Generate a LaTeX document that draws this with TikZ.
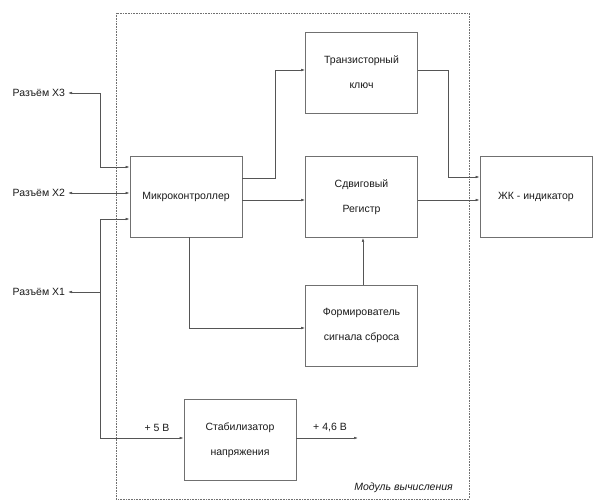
\documentclass[tikz,border=0pt]{standalone}
\usepackage{fontspec}
\setmainfont{Liberation Sans}
\usetikzlibrary{arrows.meta}
\definecolor{ln}{HTML}{555555}
\definecolor{bx}{HTML}{707070}
\definecolor{tx}{HTML}{1A1A1A}
\tikzset{
  blk/.style={draw=bx, line width=0.7pt, minimum width=112pt, minimum height=81pt, inner sep=0pt, align=center, text=tx, font=\fontsize{10.5}{25}\selectfont},
  lbl/.style={inner sep=0pt, text=tx, font=\fontsize{10.5}{12}\selectfont},
  plug/.style={lbl, outer xsep=3pt},
  con/.style={draw=ln, line width=0.6pt},
  arr/.style={con, -{Latex[length=4pt,width=2.6pt]}},
  darr/.style={con, {Latex[length=4pt,width=2.6pt]}-{Latex[length=4pt,width=2.6pt]}},
}
\begin{document}
\begin{tikzpicture}[x=1pt, y=-1pt]
\useasboundingbox (0,0) rectangle (599,503);
\draw[bx, densely dotted, line width=0.6pt] (116,13) rectangle (469,499);
\node[lbl, anchor=south east, font=\fontsize{10.5}{12}\selectfont\itshape] (mod) at (453,493) {Модуль вычисления};

\node[blk] (mc) at (186,196.5) {Микроконтроллер};
\node[blk] (tk) at (361.5,72.5) {Транзисторный\\ключ};
\node[blk] (sr) at (361.5,197) {Сдвиговый\\Регистр};
\node[blk] (lcd) at (536,197) {ЖК - индикатор};
\node[blk] (fs) at (361.5,325.5) {Формирователь\\сигнала сброса};
\node[blk] (st) at (240,440) {Стабилизатор\\напряжения};

\node[plug, anchor=east] (x3) at (68,93) {Разъём X3};
\node[plug, anchor=east] (x2) at (68,193) {Разъём X2};
\node[plug, anchor=east] (x1) at (68,292) {Разъём X1};

\coordinate (j1) at (100,292);
\coordinate (out) at (358,438);

\draw[arr] (mc.east |- 0,178) -| (275,70) -- (tk.west |- 0,70);
\draw[arr] (mc.east |- 0,200) -- (sr.west |- 0,200);
\draw[arr] (tk.east |- 0,70) -| (448,177) -- (lcd.west |- 0,177);
\draw[arr] (sr.east |- 0,200) -- (lcd.west |- 0,200);
\draw[arr] (fs.north -| 363,0) -- (sr.south -| 363,0);
\draw[arr] (mc.south -| 189,0) |- (fs.west |- 0,328);

\draw[darr] (x3.east) -- (100,93) |- (mc.west |- 0,167);
\draw[darr] (x2.east) -- (mc.west |- 0,193);
\draw[arr] (100,438) |- (mc.west |- 0,219);
\draw[arr] (j1) -- (x1.east);
\draw[arr] (100,438) -- (st.west |- 0,438);
\draw[arr] (st.east |- 0,438) -- (out);

\node[lbl, anchor=south] (v5) at (157,432) {+ 5 В};
\node[lbl, anchor=south] (v46) at (330,432) {+ 4,6 В};
\end{tikzpicture}
\end{document}
